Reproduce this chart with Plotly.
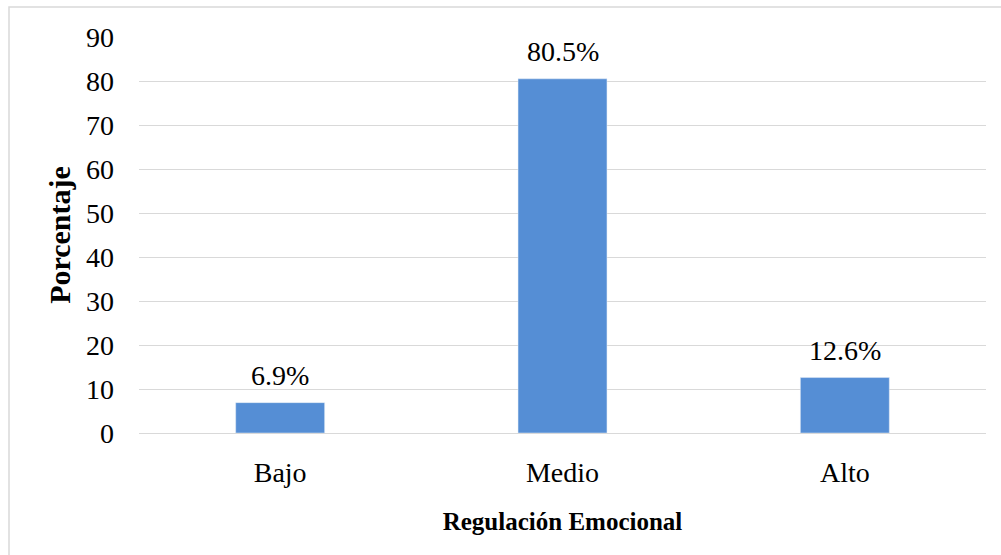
import plotly.graph_objects as go

categories = ["Bajo", "Medio", "Alto"]
values = [6.9, 80.5, 12.6]
labels = ["6.9%", "80.5%", "12.6%"]

W, H = 1001, 555
L, R, T, B = 139, 15, 37, 122
pw, ph = W - L - R, H - T - B
FONT = "Liberation Serif"

fig = go.Figure(go.Bar(
    x=categories, y=values,
    marker_color="#558ED5", width=0.315,
))

for c, v, t in zip(categories, values, labels):
    fig.add_annotation(
        x=c, y=v, text=t, showarrow=False, yanchor="bottom", yshift=10,
        font=dict(family=FONT, size=28, color="black"),
    )

def px(x):
    return (x - L) / pw

def py(y):
    return (H - B - y) / ph

fig.update_layout(
    width=W, height=H,
    margin=dict(l=L, r=R, t=T, b=B),
    plot_bgcolor="white", paper_bgcolor="white",
    font=dict(family=FONT, size=28, color="black"),
    showlegend=False,
    xaxis=dict(
        title=dict(text="<b>Regulación Emocional</b>", font=dict(size=25), standoff=25),
        showgrid=False, showline=False, ticks="", tickfont=dict(size=28),
        ticklabelstandoff=20,
    ),
    yaxis=dict(
        title=dict(text="<b>Porcentaje</b>", font=dict(size=30), standoff=6),
        range=[0, 90], dtick=10, showgrid=True, gridcolor="#D9D9D9", gridwidth=1.3,
        zeroline=True, zerolinecolor="#D9D9D9", zerolinewidth=1.3,
        showline=False, ticks="", tickfont=dict(size=28),
        ticklabelstandoff=24,
    ),
    shapes=[dict(
        type="rect", xref="paper", yref="paper",
        x0=px(9), x1=px(1020), y0=py(575), y1=py(7),
        line=dict(color="#D9D9D9", width=1.5), layer="below",
    )],
)

fig.write_html(
    "out.html",
    config={"displayModeBar": False},
    post_script="document.body.style.margin='0';document.body.style.overflow='hidden';",
)
